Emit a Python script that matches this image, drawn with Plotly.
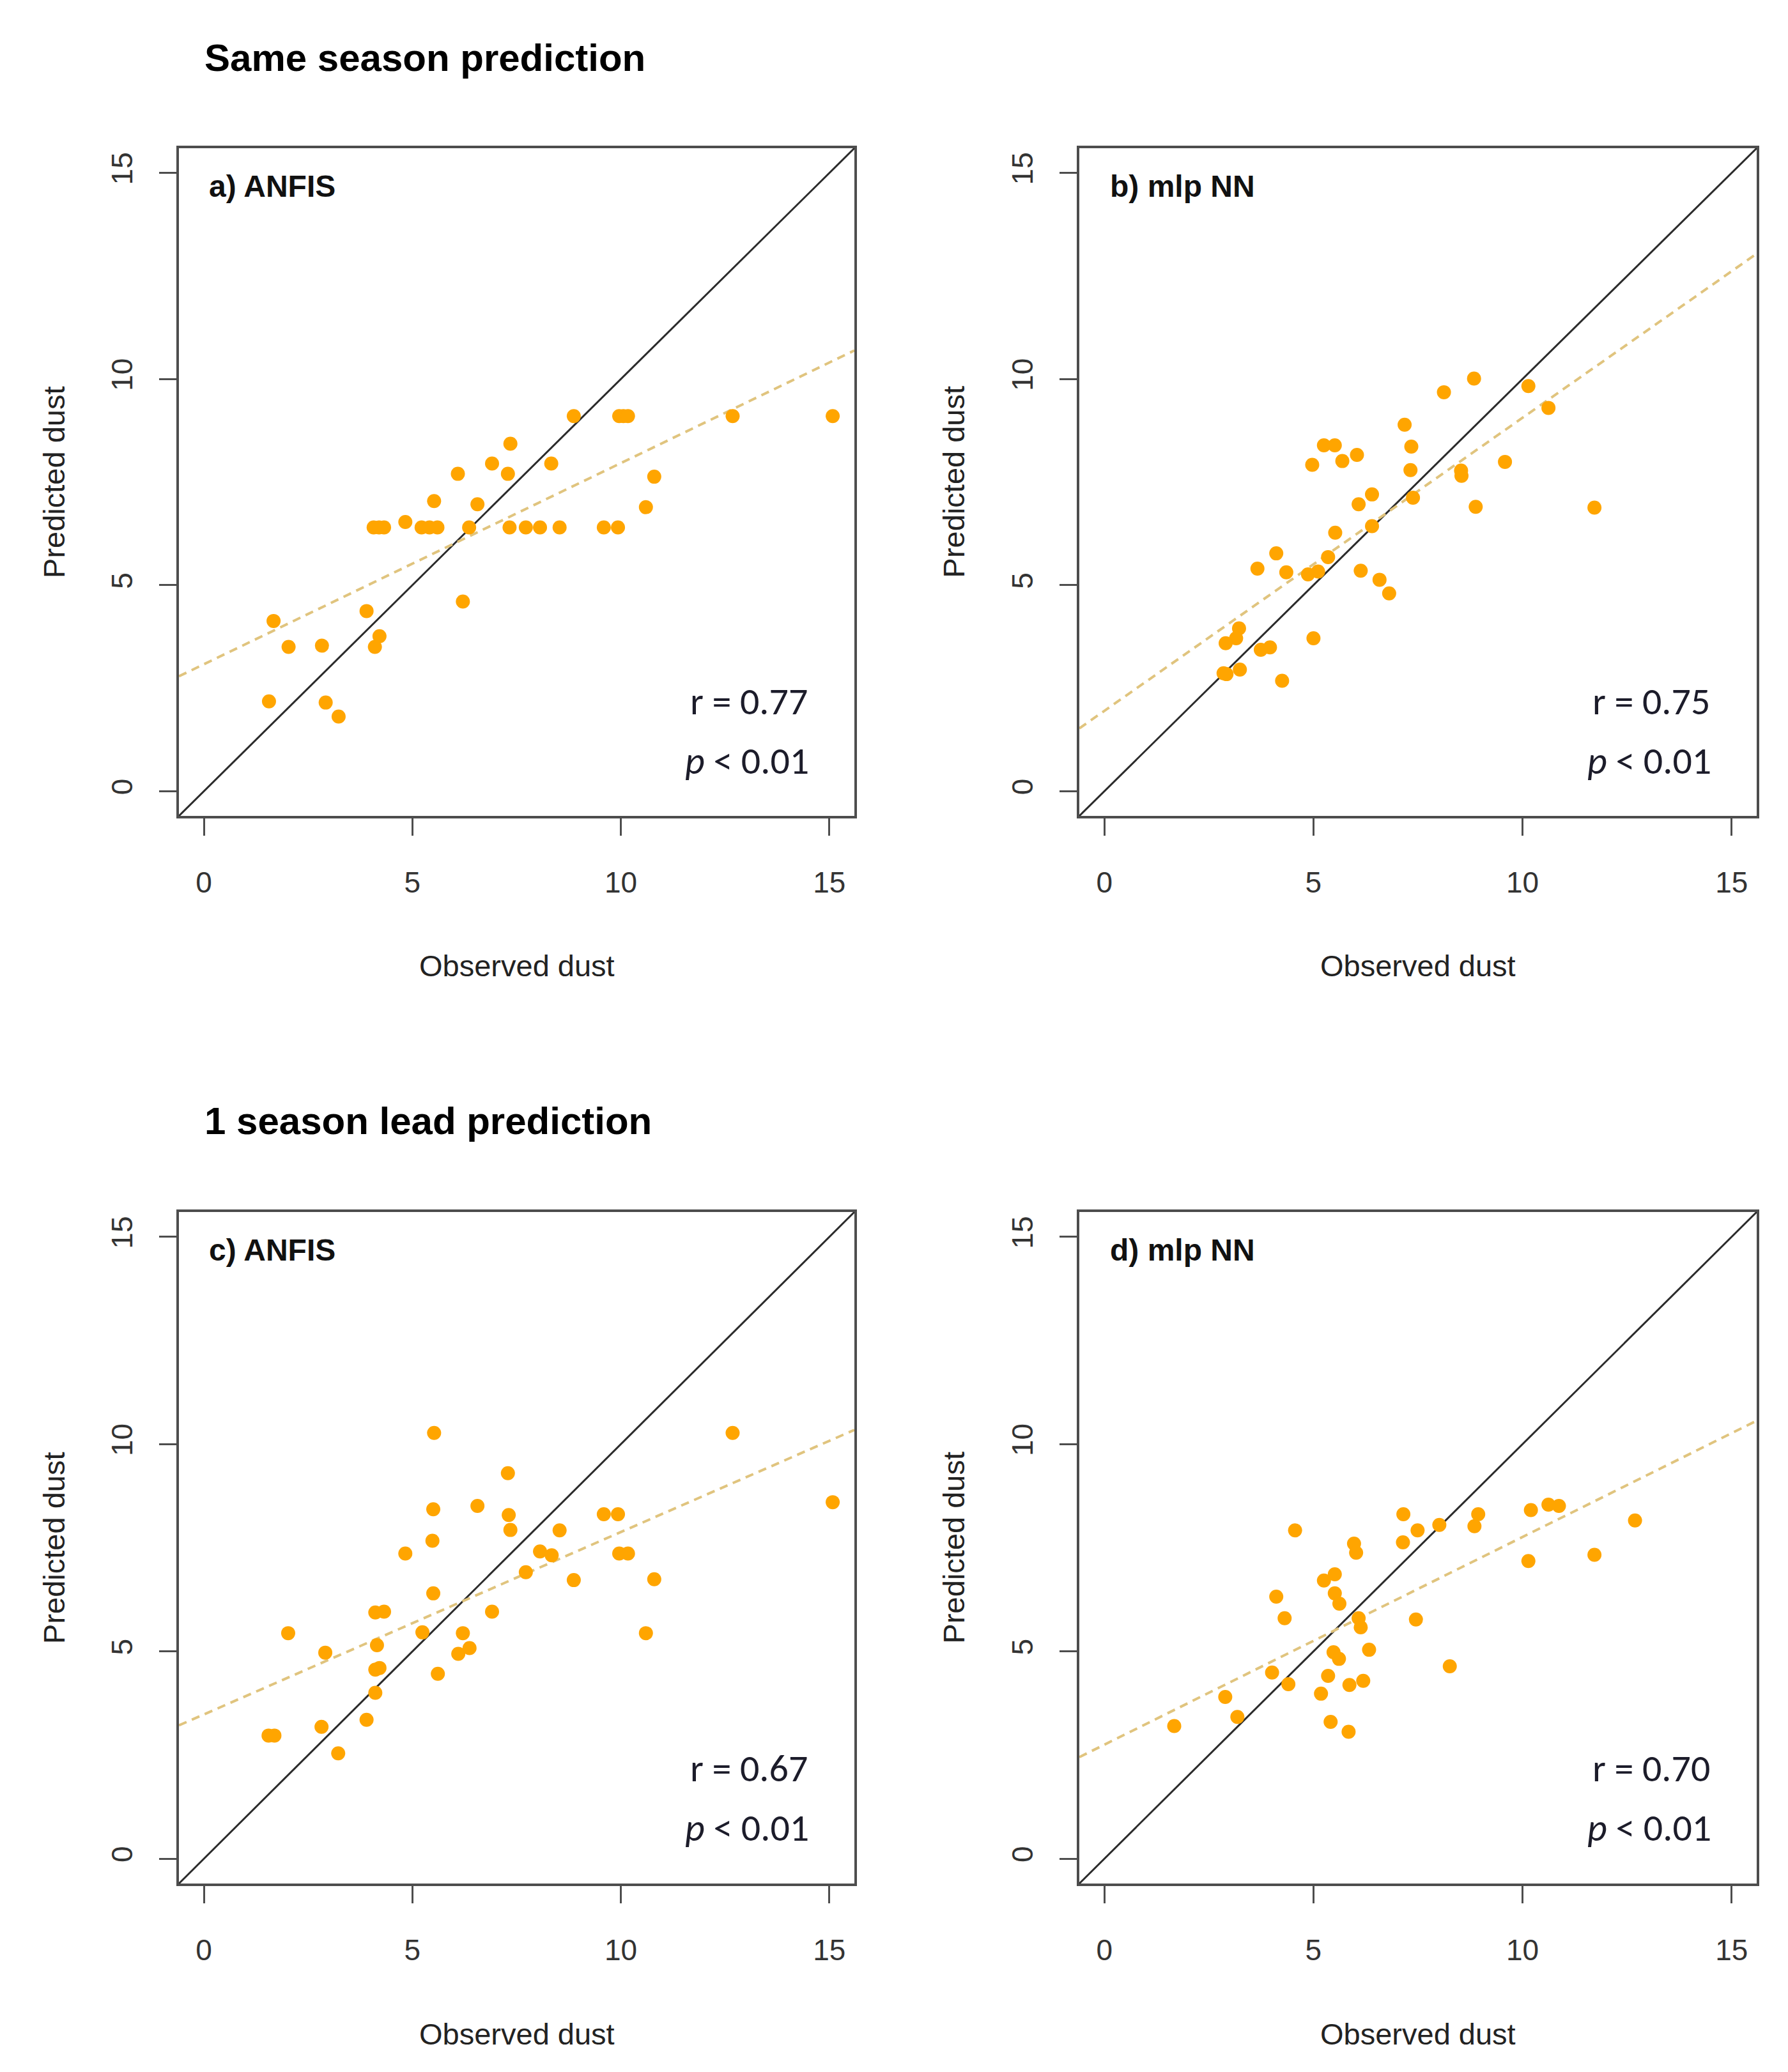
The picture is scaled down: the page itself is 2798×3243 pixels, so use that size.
import plotly.graph_objects as go

# observed / predicted dust for each panel
obs_a = [8.87, 9.96, 10.06, 10.17, 12.68, 15.08, 7.35, 6.91, 8.33, 6.09, 7.29, 10.80,
         5.52, 6.56, 10.60, 4.83, 4.07, 4.20, 4.32, 5.22, 5.41, 5.60, 6.36, 7.33,
         7.72, 8.06, 8.53, 9.59, 9.93, 6.21, 3.90, 1.67, 2.03, 2.83, 4.21, 4.10,
         1.56, 2.92, 3.23]
pred_a = [9.10, 9.10, 9.10, 9.10, 9.10, 9.10, 8.43, 7.95, 7.95, 7.70, 7.70, 7.63,
          7.04, 6.96, 6.89, 6.53, 6.40, 6.40, 6.40, 6.40, 6.40, 6.40, 6.40, 6.40,
          6.40, 6.40, 6.40, 6.40, 6.40, 4.60, 4.37, 4.13, 3.50, 3.53, 3.76, 3.50,
          2.18, 2.15, 1.81]

obs_b = [8.84, 10.14, 8.12, 10.62, 7.18, 5.25, 5.51, 7.34, 6.04, 5.69, 4.97, 9.58,
         7.32, 8.53, 8.54, 6.40, 6.08, 7.38, 8.88, 11.72, 6.40, 5.52, 4.11, 5.35,
         3.66, 4.35, 4.87, 5.11, 6.13, 6.58, 6.81, 5.00, 3.22, 3.15, 2.90, 3.74,
         3.96, 2.85, 2.92, 3.24, 4.25]
pred_b = [10.01, 9.83, 9.68, 9.30, 8.89, 8.39, 8.39, 8.36, 8.16, 8.01, 7.92, 7.99,
          7.79, 7.78, 7.65, 7.20, 6.96, 7.12, 6.90, 6.88, 6.43, 6.27, 5.77, 5.68,
          5.40, 5.31, 5.26, 5.33, 5.35, 5.13, 4.80, 3.71, 3.95, 3.71, 3.59, 3.43,
          3.49, 2.86, 2.84, 2.95, 2.68]

obs_c = [5.52, 12.68, 7.29, 5.50, 6.56, 7.31, 7.35, 9.59, 9.93, 15.08, 8.53, 5.48,
         4.83, 8.06, 8.34, 9.96, 10.17, 7.72, 8.87, 10.80, 5.50, 4.11, 4.32, 6.91,
         5.24, 6.21, 10.60, 2.02, 4.15, 2.91, 6.10, 6.37, 4.11, 4.21, 5.61, 4.11,
         3.90, 2.82, 1.55, 1.69, 3.22]
pred_c = [10.27, 10.27, 9.30, 8.43, 8.51, 8.29, 7.93, 8.31, 8.31, 8.60, 7.92, 7.67,
          7.36, 7.41, 7.32, 7.36, 7.36, 6.91, 6.72, 6.74, 6.40, 5.94, 5.96, 5.96,
          5.46, 5.44, 5.44, 5.44, 5.15, 4.97, 4.94, 5.08, 4.56, 4.60, 4.46, 4.00,
          3.35, 3.18, 2.97, 2.97, 2.54]

obs_d = [7.15, 8.94, 8.85, 10.20, 10.62, 10.87, 12.69, 4.56, 7.49, 8.01, 7.14, 5.97,
         6.02, 10.14, 11.72, 5.25, 5.51, 5.51, 5.62, 4.11, 4.31, 6.08, 6.13, 7.45,
         5.48, 5.61, 6.33, 4.01, 8.26, 5.35, 4.40, 6.19, 5.86, 2.89, 5.18, 3.18,
         1.67, 5.41, 5.84]
pred_d = [8.31, 8.31, 8.02, 8.41, 8.54, 8.51, 8.16, 7.92, 7.92, 8.05, 7.63, 7.60,
          7.38, 7.18, 7.33, 6.71, 6.86, 6.40, 6.15, 6.32, 5.80, 5.80, 5.58, 5.77,
          4.98, 4.82, 5.04, 4.49, 4.64, 4.41, 4.21, 4.29, 4.19, 3.90, 3.98, 3.42,
          3.20, 3.30, 3.06]

panel_labels = ["a) ANFIS", "b) mlp NN", "c) ANFIS", "d) mlp NN"]
r_values = ["0.77", "0.75", "0.67", "0.70"]
fit_intercept = [3.08, 1.95, 3.48, 2.75]
fit_slope = [0.488, 0.711, 0.44, 0.501]
row_titles = ["Same season prediction", "1 season lead prediction"]
tick_vals = [0, 5, 10, 15]
axis_range = [-0.6, 15.6]

W, H = 2798, 3243
col_dom = [[272 / W, 1329 / W], [1681 / W, 2741 / W]]
row_dom = [[1 - 1269 / H, 1 - 224 / H], [1 - 2940 / H, 1 - 1889 / H]]

FONT = "Liberation Sans, Arial, sans-serif"
STAT_FONT = "Carlito, Lato, sans-serif"
BOX = "#4d4d4d"

data = [(obs_a, pred_a), (obs_b, pred_b), (obs_c, pred_c), (obs_d, pred_d)]

fig = go.Figure()
annotations = []

for i, (obs, pred) in enumerate(data):
    n = "" if i == 0 else str(i + 1)
    xa, ya = "x" + n, "y" + n
    row, col = i // 2, i % 2

    # 1:1 line
    fig.add_trace(go.Scatter(x=axis_range, y=axis_range, mode="lines",
                             line=dict(color="#2b2b2b", width=3),
                             xaxis=xa, yaxis=ya, showlegend=False, hoverinfo="skip"))
    # regression line
    fy = [fit_intercept[i] + fit_slope[i] * v for v in axis_range]
    fig.add_trace(go.Scatter(x=axis_range, y=fy, mode="lines",
                             line=dict(color="#E0C47E", width=4, dash="13px,9px"),
                             xaxis=xa, yaxis=ya, showlegend=False, hoverinfo="skip"))
    fig.add_trace(go.Scatter(x=obs, y=pred, mode="markers",
                             marker=dict(color="#FFA500", size=22, line=dict(width=0)),
                             xaxis=xa, yaxis=ya, showlegend=False))

    axis_common = dict(range=axis_range, tickmode="array", tickvals=tick_vals,
                       ticks="outside", ticklen=27, tickwidth=3, tickcolor=BOX,
                       showline=True, mirror=True, linecolor=BOX, linewidth=4,
                       showgrid=False, zeroline=False,
                       tickfont=dict(family=FONT, size=46, color="#333333"))
    fig.layout["xaxis" + n] = dict(axis_common, domain=col_dom[col], anchor=ya,
                                   ticklabelstandoff=34)
    fig.layout["yaxis" + n] = dict(axis_common, domain=row_dom[row], anchor=xa,
                                   tickangle=-90, ticklabelstandoff=24)

    xd, yd = xa + " domain", ya + " domain"
    annotations += [
        dict(text="<b>" + panel_labels[i] + "</b>", xref=xd, yref=yd, x=0.043, y=0.943,
             xanchor="left", yanchor="middle", showarrow=False,
             font=dict(family=FONT, size=48, color="#111111")),
        dict(text="r = " + r_values[i], xref=xd, yref=yd, x=0.933, y=0.172,
             xanchor="right", yanchor="middle", showarrow=False,
             font=dict(family=STAT_FONT, size=60, color="#1c1c2a")),
        dict(text="<i>p</i> &lt; 0.01", xref=xd, yref=yd, x=0.935, y=0.083,
             xanchor="right", yanchor="middle", showarrow=False,
             font=dict(family=STAT_FONT, size=60, color="#1c1c2a")),
        dict(text="Observed dust", xref=xd, yref=yd, x=0.5, y=-0.224,
             xanchor="center", yanchor="middle", showarrow=False,
             font=dict(family=FONT, size=47, color="#222222")),
        dict(text="Predicted dust", xref=xd, yref=yd, x=-0.185, y=0.5, textangle=-90,
             xanchor="center", yanchor="middle", showarrow=False,
             font=dict(family=FONT, size=47, color="#222222")),
    ]

# row headings
for t, yp in zip(row_titles, [1 - 82 / H, 1 - 1746 / H]):
    annotations.append(dict(text="<b>" + t + "</b>", xref="paper", yref="paper",
                            x=310 / W, y=yp, xanchor="left", yanchor="middle",
                            showarrow=False,
                            font=dict(family=FONT, size=60, color="#000000")))

fig.update_layout(width=W, height=H, margin=dict(l=0, r=0, t=0, b=0),
                  paper_bgcolor="white", plot_bgcolor="white",
                  annotations=annotations)

fig.write_html("out.html")
